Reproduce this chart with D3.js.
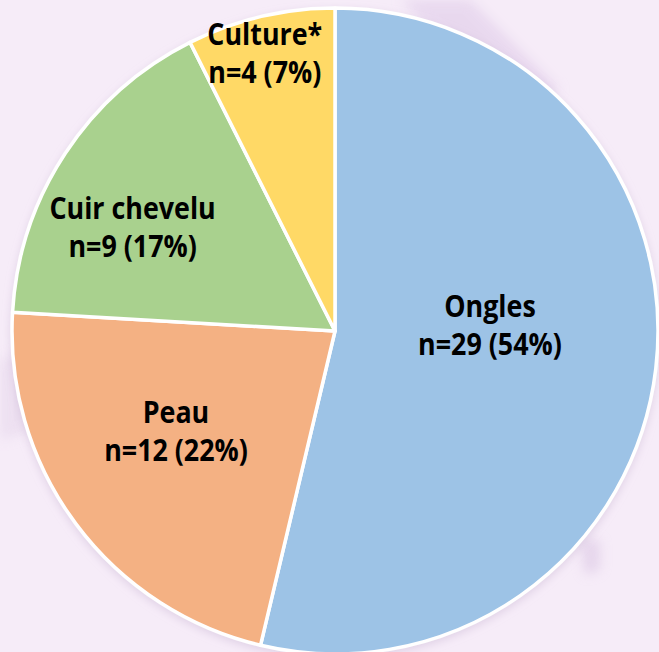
<!DOCTYPE html>
<html>
<head>
<meta charset="utf-8">
<script src="https://cdn.jsdelivr.net/npm/d3@7"></script>
<style>
  html, body { margin: 0; padding: 0; background: #f6ecf8; }
  svg { display: block; }
</style>
</head>
<body>
<svg width="659" height="652"></svg>
<script>
// data
const categories = ["Ongles", "Peau", "Cuir chevelu", "Culture*"];
const counts = [29, 12, 9, 4];
const percents = [54, 22, 17, 7];
const colors = ["#9dc3e6", "#f4b183", "#a9d18e", "#ffd966"];

// label placement: fraction of radius and angular nudge (degrees)
const labelRadius = [0.48, 0.60, 0.69, 0.855];
const labelNudge = [-4.8, 1.8, -8.6, -1.4];

const width = 659;
const height = 652;
const cx = 335, cy = 331, radius = 323;

const svg = d3.select('svg');

// faint background texture
const defs = svg.append('defs');
const blur = defs.append('filter').attr('id', 'blur').attr('x', '-50%').attr('y', '-50%')
    .attr('width', '200%').attr('height', '200%');
blur.append('feGaussianBlur').attr('stdDeviation', 6);
const shadow = defs.append('filter').attr('id', 'shadow').attr('x', '-10%').attr('y', '-10%')
    .attr('width', '120%').attr('height', '120%');
shadow.append('feDropShadow').attr('dx', 0).attr('dy', 3).attr('stdDeviation', 4)
    .attr('flood-color', '#b9a3c6').attr('flood-opacity', 0.35);

svg.append('rect').attr('width', width).attr('height', height).attr('fill', '#f6ecf8');
const bg = svg.append('g').attr('filter', 'url(#blur)').attr('opacity', 0.5);
bg.append('path').attr('d', 'M400,0 L470,0 L560,90 L520,110 Z').attr('fill', '#dcc6e6');
bg.append('path').attr('d', 'M0,360 L60,340 L70,420 L0,440 Z').attr('fill', '#e4d4ea');
bg.append('path').attr('d', 'M580,540 L600,540 L600,570 L585,575 Z').attr('fill', '#d6c0e0');

const pie = d3.pie().value(d => d).sort(null);
const arcs = pie(counts);

const arc = d3.arc().innerRadius(0).outerRadius(radius);

const g = svg.append('g').attr('transform', `translate(${cx},${cy})`);

g.append('g').attr('filter', 'url(#shadow)')
    .selectAll('path')
    .data(arcs)
    .enter().append('path')
    .attr('d', arc)
    .attr('fill', (d, i) => colors[i])
    .attr('stroke', '#ffffff')
    .attr('stroke-width', 3.5)
    .attr('stroke-linejoin', 'round');

// Calibri-like: a slightly condensed bold sans
const labels = g.selectAll('text.label')
    .data(arcs)
    .enter().append('text')
    .attr('class', 'label')
    .attr('text-anchor', 'middle')
    .attr('font-family', '"Open Sans", Lato, sans-serif')
    .attr('font-weight', 'bold')
    .attr('font-size', '29.5px')
    .attr('fill', '#000')
    .attr('transform', (d, i) => {
        const a = (d.startAngle + d.endAngle) / 2 + labelNudge[i] * Math.PI / 180;
        const r = radius * labelRadius[i];
        return `translate(${r * Math.sin(a)},${-r * Math.cos(a)}) scale(0.91,1)`;
    });

labels.append('tspan').attr('x', 0).attr('y', -19).text((d, i) => categories[i]);
labels.append('tspan').attr('x', 0).attr('y', 19).text((d, i) => `n=${counts[i]} (${percents[i]}%)`);
</script>
</body>
</html>
